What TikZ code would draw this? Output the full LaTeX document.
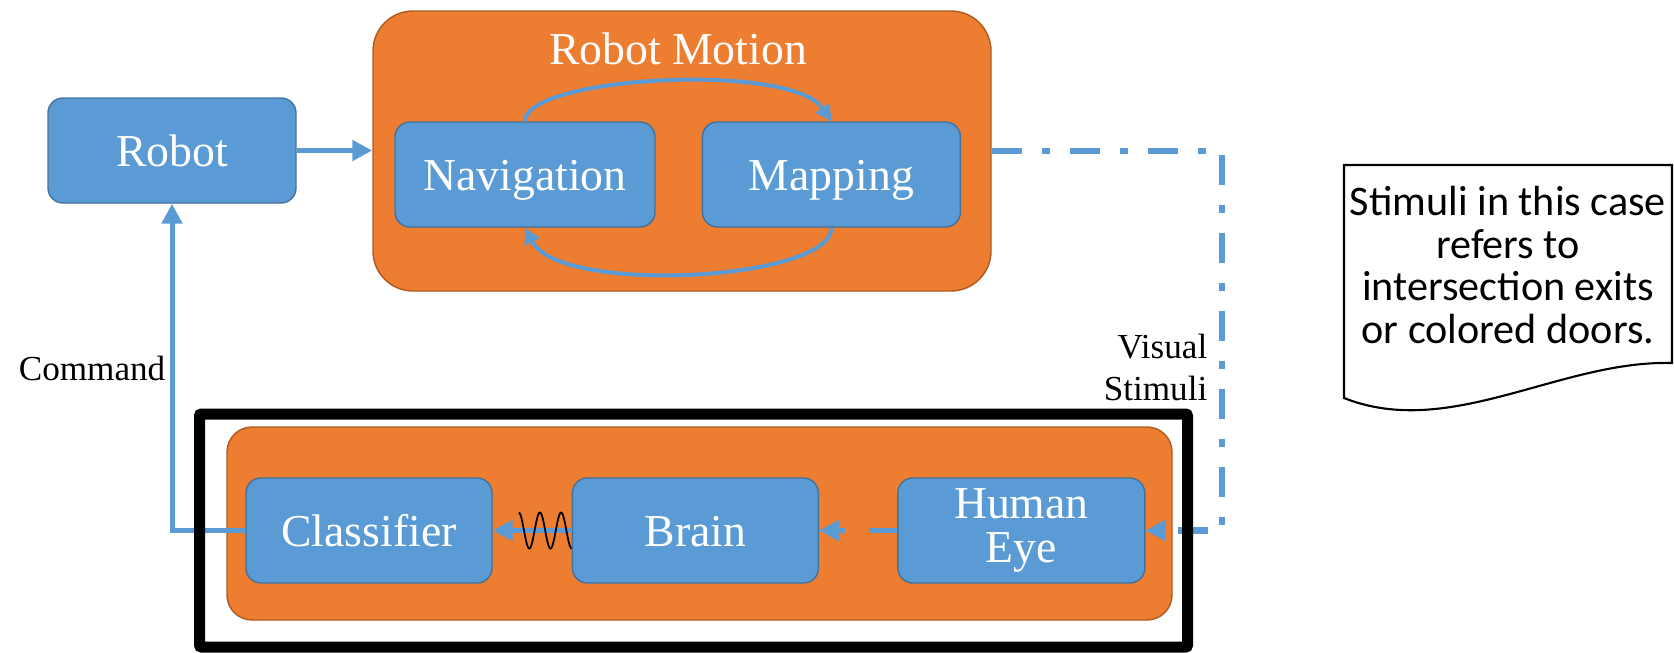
\documentclass[tikz,border=0pt]{standalone}
\usepackage{fontspec}
\setmainfont{Liberation Serif}
\newfontfamily\notefont{Carlito}
\usetikzlibrary{arrows.meta,positioning}
\definecolor{boxblue}{HTML}{5B9BD5}
\definecolor{boxblueline}{HTML}{41719C}
\definecolor{boxorange}{HTML}{ED7D31}
\definecolor{boxorangeline}{HTML}{AE5A21}

\begin{document}
\begin{tikzpicture}[
  myblock/.style={draw=boxblueline,line width=0.4pt,fill=boxblue,rounded corners=0.15cm,rectangle,
    text=white,font=\fontsize{13}{15}\selectfont,minimum width=2.46cm,minimum height=1.05cm,inner sep=0pt},
  oneline/.style={text height=0.36cm,text depth=0.04cm},
  mygroup/.style={draw=boxorangeline,line width=0.4pt,fill=boxorange,rectangle,inner sep=0pt},
  selbox/.style={draw=black,line width=0.11cm,rounded corners=0.02cm,minimum width=9.88cm,
    minimum height=2.33cm,inner sep=0pt},
  arrow/.style={-{Triangle[length=0.2cm,width=0.2cm]},line width=0.05cm,draw=boxblue},
  looparrow/.style={-{Triangle[length=0.16cm,width=0.16cm]},line width=0.04cm,draw=boxblue},
  stimuli/.style={-{Triangle[length=0.2cm,width=0.2cm]},line width=0.065cm,draw=boxblue,
    dash pattern=on 0.3cm off 0.2cm on 0.08cm off 0.2cm},
  wave/.style={draw=black,line width=0.5pt},
  notebox/.style={draw=black,line width=0.6pt,fill=white},
  smalltext/.style={font=\fontsize{10}{12.2}\selectfont,inner sep=0pt}]

  \useasboundingbox (0,0) rectangle (16.74,-6.52);

  \node[mygroup,rounded corners=0.4cm,minimum width=6.18cm,minimum height=2.8cm] (motion) at (6.82,-1.51) {};
  \node[text=white,font=\fontsize{13}{15}\selectfont,anchor=base] (mtitle) at (6.78,-0.64) {Robot Motion};
  \node[myblock,oneline,minimum width=2.48cm] (robot) at (1.72,-1.505) {Robot};
  \node[myblock,oneline,minimum width=2.6cm] (nav) at (5.25,-1.745) {Navigation};
  \node[myblock,oneline,minimum width=2.58cm] (map) [right=0.46cm of nav] {Mapping};

  \node[mygroup,rounded corners=0.25cm,minimum width=9.45cm,minimum height=1.93cm] (human) at (6.995,-5.235) {};
  \node[myblock,oneline] (cls) at (3.69,-5.305) {Classifier};
  \node[myblock,oneline] (brain) [right=0.79cm of cls] {Brain};
  \node[myblock,align=center,minimum width=2.47cm,font=\fontsize{13}{12.4}\selectfont] (eye) [right=0.78cm of brain] {Human\\Eye};

  \draw[arrow] (robot.east) -- (robot.east -| motion.west);
  \draw[looparrow] (nav.north) .. controls +(0,0.45) and +(-0.4,0.6) .. (map.north);
  \draw[looparrow] (map.south) .. controls +(0,-0.53) and +(0.35,-0.68) .. (nav.south);

  \coordinate (vcorner) at (12.22,-1.51);
  \draw[stimuli] (motion.east) -- (vcorner) |- (eye.east);
  \node[smalltext,align=right,anchor=south east] (vislabel) at (12.08,-4.02) {Visual\\Stimuli};

  \draw[arrow] (cls.west) -| (robot.south);
  \node[smalltext,anchor=base east] (cmdlabel) at (1.66,-3.80) {Command};

  \draw[arrow] (brain.west) -- (cls.east);
  \draw[wave,shift={(brain.west)}] plot[domain=0:900,samples=90,smooth] ({-0.53*\x/900},{-0.18*cos(\x)});
  \draw[arrow,dash pattern=on 0.28cm off 0.24cm] (eye.west) -- (brain.east);

  \node[selbox] (selection) at (6.935,-5.305) {};

  \draw[notebox] (13.44,-1.65) -- (16.72,-1.65) -- (16.72,-3.63)
    .. controls (15.60,-3.60) and (14.50,-4.40) .. (13.44,-3.98) -- cycle;
  \node[font=\notefont\fontsize{12}{12.2}\selectfont,align=center,inner sep=0pt] (note) at (15.08,-2.65)
    {Stimuli in this case\\refers to\\intersection exits\\or colored doors.};
\end{tikzpicture}
\end{document}
